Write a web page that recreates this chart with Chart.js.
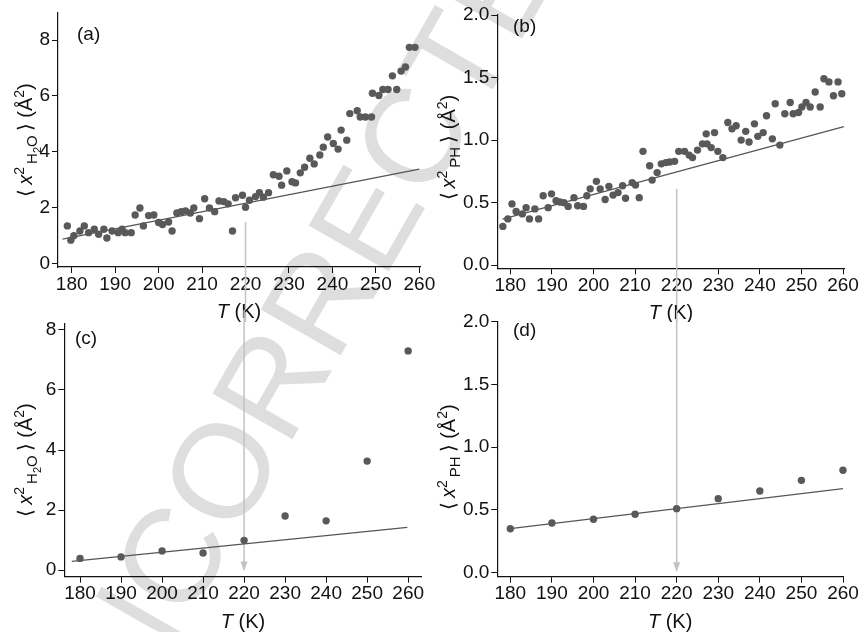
<!DOCTYPE html>
<html>
<head>
<meta charset="utf-8">
<script src="https://cdn.jsdelivr.net/npm/chart.js@4.4.1/dist/chart.umd.min.js"></script>
<style>
  html, body { margin: 0; padding: 0; background: #fff; }
  #wrap { position: relative; width: 866px; height: 632px; overflow: hidden; }
  #wrap canvas { position: absolute; }
</style>
</head>
<body>
<div id="wrap">
  <canvas id="stamp" width="866" height="632" style="left:0;top:0"></canvas>
  <canvas id="pb" width="433" height="322" style="left:433px;top:0"></canvas>
  <canvas id="pd" width="433" height="322" style="left:433px;top:310px"></canvas>
  <canvas id="pa" width="446" height="322" style="left:0;top:0"></canvas>
  <canvas id="pc" width="446" height="322" style="left:0;top:310px"></canvas>
</div>
<script>
// temperature axis ticks and the two kinds of y ticks
const tempTicks = [180, 190, 200, 210, 220, 230, 240, 250, 260];
const waterTicks = [0, 2, 4, 6, 8];
const protTicks = [0, 0.5, 1.0, 1.5, 2.0];

// (a) hydration water MSD, fine temperature scan
const tA = [179.0, 179.8, 180.5, 181.9, 182.9, 183.9, 185.2, 186.2, 187.4, 188.1, 189.3, 190.7, 191.6, 192.3, 193.7,
  194.6, 195.7, 196.5, 197.7, 198.9, 200.0, 200.9, 202.3, 203.1, 204.2, 205.2, 206.2, 207.3, 208.1, 209.4, 210.6,
  211.7, 212.9, 213.9, 215.0, 216.0, 217.0, 217.7, 219.3, 220.0, 220.9, 222.3, 223.2, 224.1, 225.3, 226.4, 227.7,
  228.3, 229.5, 230.7, 231.5, 232.6, 233.6, 234.8, 235.8, 237.1, 237.9, 238.9, 240.2, 241.3, 242.0, 243.3, 244.0,
  245.7, 246.4, 247.6, 249.0, 249.2, 250.7, 251.6, 252.8, 253.8, 254.8, 255.8, 256.8, 257.7, 259.0];
const msdA = [1.35, 0.84, 1.00, 1.17, 1.35, 1.11, 1.23, 1.05, 1.23, 0.92, 1.17, 1.11, 1.23, 1.11, 1.11,
  1.74, 1.99, 1.35, 1.72, 1.74, 1.47, 1.40, 1.49, 1.17, 1.81, 1.86, 1.89, 1.81, 1.99, 1.61, 2.32,
  1.99, 1.86, 2.24, 2.22, 2.14, 1.17, 2.36, 2.45, 2.02, 2.27, 2.40, 2.54, 2.38, 2.54, 3.18, 3.13,
  2.81, 3.32, 2.93, 2.89, 3.25, 3.45, 3.77, 3.57, 3.89, 4.17, 4.53, 4.30, 4.10, 4.78, 4.42, 5.37,
  5.47, 5.25, 5.25, 5.25, 6.10, 6.02, 6.23, 6.23, 6.72, 6.23, 6.89, 7.04, 7.74, 7.74];
const fitA = [{ x: 177.9, y: 0.88 }, { x: 260, y: 3.38 }];

// (b) protein MSD, fine temperature scan
const tB = [178.2, 179.4, 180.4, 181.4, 182.9, 183.8, 184.6, 185.9, 186.8, 187.9, 189.1, 189.9, 191.0, 191.9, 192.9,
  193.9, 195.3, 196.2, 197.6, 198.4, 199.2, 200.7, 201.6, 202.8, 203.7, 204.7, 205.9, 207.0, 207.7, 209.3, 210.1,
  211.0, 211.9, 213.5, 214.1, 215.3, 216.3, 217.4, 218.3, 219.5, 220.5, 221.9, 223.0, 223.8, 225.0, 226.2, 227.1,
  227.3, 228.3, 229.1, 229.9, 231.1, 232.3, 233.3, 234.3, 235.5, 236.6, 237.4, 238.7, 239.5, 240.8, 241.6, 243.0,
  243.7, 244.8, 246.0, 247.3, 248.0, 249.3, 250.1, 251.1, 252.1, 253.3, 254.5, 255.4, 256.6, 257.7, 258.8, 259.7];
const msdB = [0.31, 0.37, 0.49, 0.43, 0.41, 0.46, 0.37, 0.45, 0.37, 0.555, 0.46, 0.57, 0.515, 0.505, 0.50,
  0.47, 0.54, 0.475, 0.47, 0.555, 0.61, 0.67, 0.61, 0.525, 0.63, 0.56, 0.58, 0.635, 0.535, 0.66, 0.64,
  0.54, 0.91, 0.795, 0.68, 0.74, 0.81, 0.82, 0.825, 0.83, 0.91, 0.91, 0.88, 0.86, 0.92, 0.97, 1.05,
  0.97, 0.94, 1.06, 0.91, 0.86, 1.14, 1.09, 1.115, 1.00, 1.07, 0.985, 1.13, 1.03, 1.06, 1.195, 1.01,
  1.29, 0.96, 1.21, 1.30, 1.21, 1.22, 1.265, 1.30, 1.265, 1.385, 1.265, 1.49, 1.465, 1.355, 1.465, 1.37];
const fitB = [{ x: 178.1, y: 0.368 }, { x: 260.2, y: 1.107 }];

// (c) and (d): 10 K steps
const tStep = [180, 190, 200, 210, 220, 230, 240, 250, 260];
const msdC = [0.39, 0.44, 0.64, 0.57, 0.99, 1.80, 1.64, 3.63, 7.30];
const fitC = [{ x: 178, y: 0.29 }, { x: 259.8, y: 1.42 }];
const msdD = [0.348, 0.394, 0.423, 0.463, 0.508, 0.588, 0.649, 0.734, 0.814];
const fitD = [{ x: 180, y: 0.348 }, { x: 260.2, y: 0.668 }];

// marker at 220 K: start of the arrow in the top panels, tip in the bottom ones
const markT = 220;
const markStartA = 1.49;
const markStartB = 0.61;
const markTipC = -0.05;
const markTipD = 0.0;

const FONT = '"Liberation Sans", Arial, Helvetica, sans-serif';
const INK = '#111';
const DOT = '#595959';
const FITC = '#555';
const MARK = '#c2c2c2';

// label pieces
const waterLabel = [
  { t: '\u27E8\u2009' }, { t: 'x', i: 1 }, { t: '2', s: 14, dy: -8 },
  { t: '\u2009H', s: 15, dy: 5 }, { t: '2', s: 11, dy: 9 }, { t: 'O', s: 15, dy: 5 },
  { t: '\u2009\u27E9' }, { t: ' (\u00C5' }, { t: '2', s: 14, dy: -8 }, { t: ')' }
];
const protLabel = [
  { t: '\u27E8\u2009' }, { t: 'x', i: 1 }, { t: '2', s: 14, dy: -8 },
  { t: '\u2009PH', s: 15, dy: 5 },
  { t: '\u2009\u27E9' }, { t: ' (\u00C5' }, { t: '2', s: 14, dy: -8 }, { t: ')' }
];
const tempLabel = [{ t: 'T', i: 1 }, { t: ' (K)' }];

function segFont(s) {
  return (s.i ? 'italic ' : '') + (s.s || 20) + 'px ' + FONT;
}

function drawRich(ctx, segs, cx, cy, rotate) {
  let w = 0;
  const widths = segs.map(s => { ctx.font = segFont(s); const m = ctx.measureText(s.t).width; w += m; return m; });
  ctx.save();
  ctx.translate(cx, cy);
  if (rotate) ctx.rotate(-Math.PI / 2);
  ctx.fillStyle = INK;
  ctx.textBaseline = 'alphabetic';
  ctx.textAlign = 'left';
  let x = -w / 2;
  segs.forEach((s, k) => {
    ctx.font = segFont(s);
    ctx.fillText(s.t, x, 7 + (s.dy || 0));
    x += widths[k];
  });
  ctx.restore();
}

// axis titles, panel letter and the grey 220 K arrow
const decor = {
  id: 'decor',
  beforeDatasetsDraw(chart, args, o) {
    const ctx = chart.ctx;
    const px = chart.scales.x.getPixelForValue(markT);
    ctx.save();
    ctx.strokeStyle = MARK;
    ctx.fillStyle = MARK;
    ctx.lineWidth = 1.5;
    ctx.beginPath();
    if (o.markFrom !== undefined) {
      ctx.moveTo(px, chart.scales.y.getPixelForValue(o.markFrom));
      ctx.lineTo(px, chart.height);
      ctx.stroke();
    } else {
      const tip = chart.scales.y.getPixelForValue(o.markTip);
      ctx.moveTo(px, 0);
      ctx.lineTo(px, tip - 8);
      ctx.stroke();
      ctx.beginPath();
      ctx.moveTo(px - 3.5, tip - 10);
      ctx.lineTo(px + 3.5, tip - 10);
      ctx.lineTo(px, tip);
      ctx.closePath();
      ctx.fill();
    }
    ctx.restore();
  },
  afterDraw(chart, args, o) {
    const ctx = chart.ctx;
    const a = chart.chartArea;
    drawRich(ctx, o.yLabel, o.yLabelX, (a.top + a.bottom) / 2 + o.yShift, true);
    drawRich(ctx, tempLabel, (a.left + a.right) / 2, a.bottom + 44, false);
    ctx.save();
    ctx.font = '19px ' + FONT;
    ctx.fillStyle = INK;
    ctx.textBaseline = 'middle';
    ctx.fillText(o.letter, o.letterX, o.letterY);
    ctx.restore();
  }
};

function panel(id, p) {
  const cv = document.getElementById(id);
  const W = cv.width, H = cv.height;
  return new Chart(cv, {
    data: {
      datasets: [
        {
          type: 'scatter',
          data: p.t.map((t, k) => ({ x: t, y: p.v[k] })),
          pointRadius: 3.7,
          pointBackgroundColor: DOT,
          pointBorderWidth: 0,
          pointHoverRadius: 3.7,
          clip: false
        },
        {
          type: 'line',
          data: p.fit,
          borderColor: FITC,
          borderWidth: 1.2,
          pointRadius: 0,
          fill: false
        }
      ]
    },
    options: {
      responsive: false,
      animation: false,
      events: [],
      layout: { padding: { left: 0, top: p.area.top, right: W - p.area.right, bottom: 0 } },
      scales: {
        x: {
          type: 'linear',
          min: p.xMin,
          max: p.xMax,
          afterBuildTicks: s => { s.ticks = tempTicks.map(v => ({ value: v })); },
          afterFit: s => { s.height = H - p.area.bottom; s.paddingLeft = 0; s.paddingRight = 0; },
          grid: { display: true, drawOnChartArea: false, drawTicks: true, tickLength: 6, tickColor: INK, tickWidth: 1 },
          border: { display: true, color: INK, width: 1.2 },
          ticks: { font: { family: FONT, size: 19 }, color: INK, padding: 0, maxRotation: 0, autoSkip: false }
        },
        y: {
          type: 'linear',
          min: p.yMin,
          max: p.yMax,
          afterBuildTicks: s => { s.ticks = p.yTicks.map(v => ({ value: v })); },
          afterFit: s => { s.width = p.area.left; s.paddingTop = 0; s.paddingBottom = 0; },
          grid: { display: true, drawOnChartArea: false, drawTicks: true, tickLength: 6, tickColor: INK, tickWidth: 1 },
          border: { display: true, color: INK, width: 1.2 },
          ticks: {
            font: { family: FONT, size: 19 }, color: INK, padding: 2, autoSkip: false,
            callback: v => p.fmt(v)
          }
        }
      },
      plugins: {
        legend: { display: false },
        tooltip: { enabled: false },
        decor: p.decor
      }
    },
    plugins: [decor]
  });
}

panel('pa', {
  t: tA, v: msdA, fit: fitA,
  area: { left: 58, right: 420, top: 13, bottom: 267 },
  xMin: 176.85, xMax: 260.15, yMin: -0.12, yMax: 8.97, yTicks: waterTicks,
  fmt: v => String(v),
  decor: { yLabel: waterLabel, yLabelX: 25, yShift: 0, letter: '(a)', letterX: 77, letterY: 35, markFrom: markStartA }
});

panel('pb', {
  t: tB, v: msdB, fit: fitB,
  area: { left: 64.3, right: 411.7, top: 15, bottom: 268.3 },
  xMin: 176.87, xMax: 260.4, yMin: -0.025, yMax: 2.0, yTicks: protTicks,
  fmt: v => v.toFixed(1),
  decor: { yLabel: protLabel, yLabelX: 15, yShift: 6, letter: '(b)', letterX: 80, letterY: 27, markFrom: markStartB }
});

panel('pc', {
  t: tStep, v: msdC, fit: fitC,
  area: { left: 64.3, right: 421.7, top: 13.3, bottom: 266.7 },
  xMin: 176.17, xMax: 263.3, yMin: -0.22, yMax: 8.22, yTicks: waterTicks,
  fmt: v => String(v),
  decor: { yLabel: waterLabel, yLabelX: 25, yShift: 10, letter: '(c)', letterX: 75, letterY: 29, markTip: markTipC }
});

panel('pd', {
  t: tStep, v: msdD, fit: fitD,
  area: { left: 64.3, right: 410, top: 11.7, bottom: 266.7 },
  xMin: 176.87, xMax: 260, yMin: -0.035, yMax: 2.0, yTicks: protTicks,
  fmt: v => v.toFixed(1),
  decor: { yLabel: protLabel, yLabelX: 15, yShift: 8, letter: '(d)', letterX: 80, letterY: 21, markTip: markTipD }
});

// faint diagonal stamp behind the panels
const st = document.getElementById('stamp').getContext('2d');
st.save();
st.translate(91, 791);
st.rotate(-60.2 * Math.PI / 180);
st.font = '134px ' + FONT;
st.fillStyle = '#dedede';
st.fillText('UNCORRECTED', 0, 0);
st.restore();
</script>
</body>
</html>
